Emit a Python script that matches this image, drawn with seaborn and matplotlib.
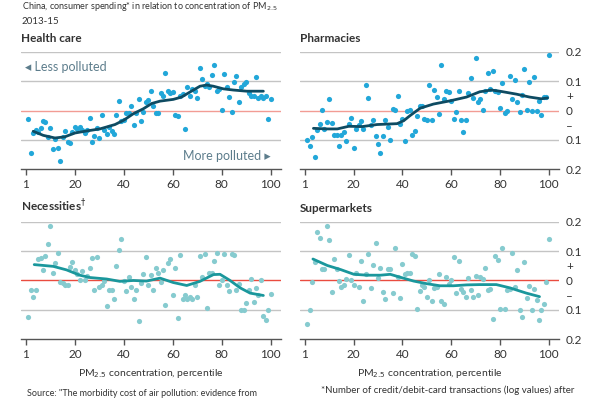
import matplotlib
matplotlib.use("Agg")
import matplotlib.pyplot as plt
import pandas as pd
import seaborn as sns

sns.set_theme(style="white")
plt.rcParams["font.family"] = ["Lato", "DejaVu Sans"]

percentile = list(range(1, 101))

health_care = [
    -0.029, -0.145, -0.077, -0.067, -0.075, -0.060, -0.037, -0.040, -0.090, -0.060,
    -0.130, -0.097, -0.128, -0.171, -0.090, -0.070, -0.108, -0.110, -0.074, -0.056,
    -0.063, -0.056, -0.065, -0.077, -0.065, -0.025, -0.108, -0.088, -0.060, -0.094,
    -0.017, -0.067, -0.079, -0.056, -0.070, -0.082, -0.017, 0.034, -0.037, -0.031,
    -0.008, -0.010, 0.017, -0.051, -0.008, 0.038, -0.037, -0.006, 0.029, 0.035,
    0.066, 0.017, -0.008, -0.010, 0.061, 0.049, 0.129, 0.066, 0.061, 0.064,
    -0.017, -0.019, 0.049, 0.057, -0.062, 0.081, 0.049, 0.074, 0.066, 0.043,
    0.146, 0.109, 0.083, 0.089, 0.081, 0.123, 0.157, 0.066, 0.074, 0.001,
    0.126, 0.081, 0.047, -0.005, 0.097, 0.118, 0.030, 0.081, 0.090, 0.097,
    0.061, 0.051, 0.049, 0.115, 0.043, 0.049, 0.043, 0.049, -0.029, 0.038,
]
pharmacies = [
    -0.100, -0.122, -0.090, -0.159, -0.065, -0.045, 0.003, -0.062, -0.040, 0.041,
    -0.042, -0.083, -0.083, -0.122, -0.083, -0.074, -0.105, -0.045, -0.026, -0.129,
    -0.062, -0.048, -0.037, -0.062, 0.087, 0.043, -0.051, -0.033, -0.088, -0.114,
    -0.147, -0.086, -0.033, -0.056, -0.100, 0.006, 0.003, 0.049, -0.045, -0.029,
    -0.105, -0.002, 0.001, -0.083, -0.071, -0.019, 0.015, 0.015, -0.030, -0.033,
    0.088, -0.033, 0.069, 0.046, -0.011, 0.157, 0.040, 0.067, 0.063, 0.034,
    -0.029, -0.006, 0.066, -0.031, -0.074, -0.031, 0.061, 0.110, 0.043, 0.181,
    0.029, 0.038, 0.003, 0.066, 0.129, 0.072, 0.134, 0.066, 0.064, 0.009,
    0.093, -0.010, -0.003, 0.118, 0.038, 0.104, 0.030, -0.006, 0.054, 0.141,
    0.003, 0.099, 0.000, 0.115, -0.003, 0.032, -0.017, 0.046, 0.046, 0.190,
]
necessities = [
    -0.123, -0.031, -0.055, -0.031, 0.074, 0.077, 0.034, 0.082, 0.123, 0.187,
    0.027, 0.059, 0.094, -0.005, -0.009, -0.017, -0.017, 0.046, 0.062, 0.034,
    0.023, 0.000, 0.032, 0.000, 0.014, 0.042, 0.078, -0.034, 0.080, -0.021,
    -0.014, -0.003, -0.088, -0.032, -0.032, -0.064, 0.048, 0.105, 0.142, -0.003,
    -0.037, 0.011, -0.021, -0.063, -0.032, -0.137, -0.009, 0.023, 0.080, -0.017,
    0.019, -0.031, 0.043, 0.025, -0.006, 0.037, -0.083, 0.059, 0.073, -0.049,
    0.043, -0.127, 0.086, -0.063, -0.051, -0.063, -0.055, -0.064, -0.017, -0.055,
    0.082, 0.011, 0.091, -0.093, 0.025, 0.025, 0.066, 0.095, -0.014, 0.000,
    0.091, -0.014, -0.037, 0.089, 0.086, -0.034, -0.011, -0.099, -0.102, -0.076,
    -0.034, 0.006, -0.074, -0.025, -0.050, 0.000, -0.122, -0.134, -0.099, -0.046,
]
supermarkets = [
    -0.148, -0.100, -0.006, 0.063, 0.166, 0.146, 0.039, 0.039, 0.185, 0.139,
    -0.040, 0.074, 0.040, -0.002, -0.021, -0.017, 0.005, 0.086, 0.000, -0.014,
    0.025, -0.021, 0.065, -0.069, 0.021, 0.091, -0.025, 0.051, 0.128, 0.007,
    0.043, -0.040, -0.063, 0.040, 0.040, -0.043, 0.110, 0.011, -0.059, 0.057,
    0.021, 0.025, 0.025, 0.091, 0.082, -0.096, -0.037, -0.017, -0.021, -0.055,
    0.002, -0.071, -0.025, -0.021, 0.021, -0.069, -0.080, 0.011, -0.011, 0.002,
    0.080, -0.043, 0.065, -0.029, -0.040, -0.055, 0.007, -0.034, -0.055, 0.014,
    -0.048, 0.011, 0.005, 0.043, -0.034, -0.029, -0.131, 0.082, 0.069, -0.097,
    0.112, -0.097, -0.032, -0.029, 0.094, -0.021, 0.034, -0.102, -0.125, 0.063,
    -0.060, -0.020, -0.102, -0.030, -0.066, -0.134, -0.102, -0.080, -0.006, 0.141,
]

# smoothed trend lines
health_trend_x = [3, 7.1, 11.9, 15.9, 20, 24.8, 30.2, 36.4, 40, 43.9, 48, 51.4,
                  54.8, 60.2, 63.6, 67, 71.1, 73.8, 76.6, 80.7, 84.7, 90.2, 97]
health_trend = [-0.071, -0.085, -0.094, -0.090, -0.077, -0.070, -0.063, -0.048,
                -0.033, -0.011, 0.006, 0.024, 0.032, 0.038, 0.046, 0.063, 0.083,
                0.087, 0.083, 0.074, 0.070, 0.066, 0.066]
pharm_trend_x = [3.5, 9.2, 13.3, 18, 23.5, 29.6, 37.8, 40.5, 43.2, 47.3, 52.7,
                 59.5, 66.3, 71.7, 76.5, 79.9, 86.7, 92.1, 96.9, 99.5]
pharm_trend = [-0.061, -0.063, -0.063, -0.054, -0.055, -0.048, -0.045, -0.035,
               -0.017, 0.008, 0.022, 0.033, 0.046, 0.064, 0.070, 0.066, 0.056,
               0.046, 0.040, 0.043]
necess_trend_x = [3.4, 11.2, 16.6, 22, 26.2, 33, 38.4, 43.9, 49.3, 54.8, 60.2,
                  65.7, 71.1, 76.6, 79.3, 83.4, 87.5, 91.6, 97]
necess_trend = [0.054, 0.048, 0.036, 0.018, 0.010, 0.005, -0.003, 0.000, -0.002,
                0.008, -0.007, -0.017, -0.003, 0.020, 0.021, 0.000, -0.025,
                -0.043, -0.051]
super_trend_x = [3.3, 9.2, 14.7, 20.1, 25.5, 31, 35, 39.1, 44.6, 50, 55.4, 60.9,
                 66.3, 71.7, 78.5, 84, 90.8, 96.2]
super_trend = [0.073, 0.051, 0.037, 0.021, 0.018, 0.018, 0.021, 0.011, -0.002,
               -0.011, -0.018, -0.018, -0.015, -0.014, -0.014, -0.025, -0.043,
               -0.055]

x_ticks = [0, 20, 40, 60, 80, 100]
x_tick_labels = ["1", "20", "40", "60", "80", "100"]
y_ticks = [0.2, 0.1, 0.05, 0, -0.05, -0.1, -0.2]
y_tick_labels = ["0.2", "0.1", "+", "0", "\u2013", "0.1", "0.2"]

GRID = "#c4c4c4"
TEXT = "#333333"
TOP_DOT, TOP_LINE, TOP_ZERO = "#22a7d9", "#0e4b62", "#f29c94"
BOT_DOT, BOT_LINE, BOT_ZERO = "#86cbcf", "#1a979c", "#ea4c3f"

fig = plt.figure(figsize=(6, 4), dpi=100)


def draw_panel(rect, values, tx, ty, title, dot, line, zero, right_labels, xlabel):
    ax = fig.add_axes(rect)
    df = pd.DataFrame({"pct": percentile, "val": values})
    for g in [0.2, 0.1, -0.1]:
        ax.axhline(g, color=GRID, lw=1, zorder=0)
    ax.axhline(0, color=zero, lw=1, zorder=0)
    sns.scatterplot(data=df, x="pct", y="val", ax=ax, color=dot, s=14,
                    linewidth=0, clip_on=False, zorder=2)
    sns.lineplot(x=tx, y=ty, ax=ax, color=line, lw=2, zorder=3)
    ax.set_xlim(-2.0, 104.2)
    ax.set_ylim(-0.2, 0.2)
    for s in ["top", "left", "right"]:
        ax.spines[s].set_visible(False)
    ax.spines["bottom"].set_color("#555555")
    ax.spines["bottom"].set_linewidth(1)
    ax.set_xticks(x_ticks)
    ax.set_xticklabels(x_tick_labels)
    ax.tick_params(axis="x", length=4, width=1, color="#555555", labelsize=8.5,
                   labelcolor=TEXT, pad=3, bottom=True)
    if right_labels:
        ax.yaxis.tick_right()
        ax.set_yticks(y_ticks)
        ax.set_yticklabels(y_tick_labels)
        ax.tick_params(axis="y", length=0, labelsize=8.5, labelcolor=TEXT, pad=5)
    else:
        ax.set_yticks([])
    ax.set_xlabel(xlabel, fontsize=7.5, color=TEXT, labelpad=5)
    ax.set_ylabel("")
    ax.text(0, 1.065, title, transform=ax.transAxes, fontsize=8.5, fontweight="bold",
            color=TEXT, ha="left", va="bottom")
    return ax


xlab = "PM$_{2.5}$ concentration, percentile"
ax1 = draw_panel([0.035, 0.5775, 0.4333, 0.2925], health_care, health_trend_x,
                 health_trend, "Health care", TOP_DOT, TOP_LINE, TOP_ZERO, False, "")
ax2 = draw_panel([0.5, 0.5775, 0.4317, 0.2925], pharmacies, pharm_trend_x,
                 pharm_trend, "Pharmacies", TOP_DOT, TOP_LINE, TOP_ZERO, True, "")
ax3 = draw_panel([0.035, 0.1518, 0.4333, 0.294], necessities, necess_trend_x,
                 necess_trend, "Necessities$^{\\dagger}$", BOT_DOT, BOT_LINE, BOT_ZERO,
                 False, xlab)
ax4 = draw_panel([0.5, 0.1518, 0.4317, 0.294], supermarkets, super_trend_x,
                 super_trend, "Supermarkets", BOT_DOT, BOT_LINE, BOT_ZERO, True, xlab)

ax1.text(0.015, 0.87, "\u25c2 Less polluted", transform=ax1.transAxes,
         fontsize=9, color="#5d7d8c", ha="left", va="center")
ax1.text(0.96, 0.11, "More polluted \u25b8", transform=ax1.transAxes,
         fontsize=9, color="#5d7d8c", ha="right", va="center")

fig.text(0.036, 0.999, "China, consumer spending* in relation to concentration of PM$_{2.5}$",
         fontsize=6.5, color=TEXT, ha="left", va="top")
fig.text(0.036, 0.958, "2013-15", fontsize=7, color=TEXT, ha="left", va="top")
fig.text(0.535, 0.024, "*Number of credit/debit-card transactions (log values) after",
         fontsize=7, color=TEXT, ha="left", va="center")
fig.text(0.045, 0.004, 'Source: "The morbidity cost of air pollution: evidence from',
         fontsize=6.5, color=TEXT, ha="left", va="bottom")

fig.savefig("out.png", dpi=100)
